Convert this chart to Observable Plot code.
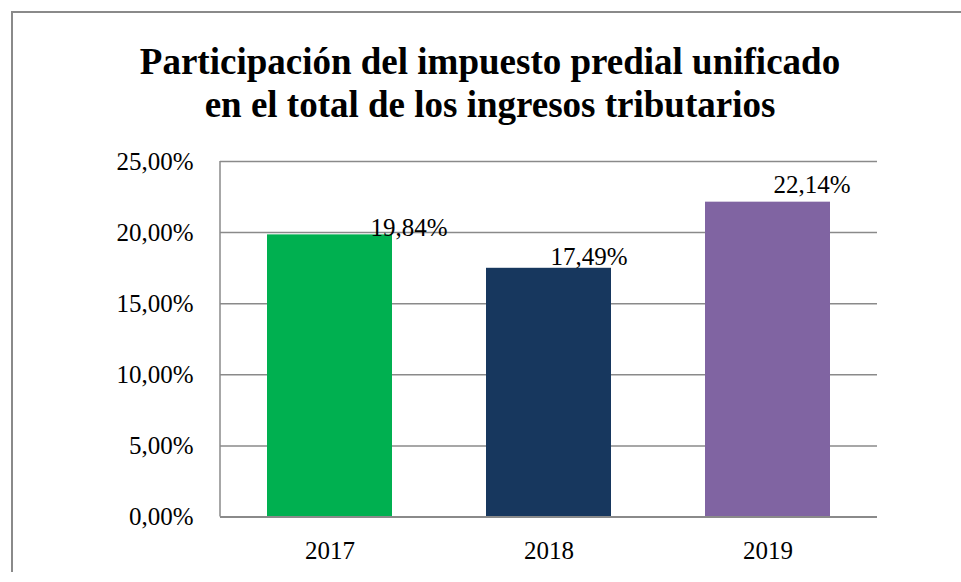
<!DOCTYPE html>
<html>
<head>
<meta charset="utf-8">
<script src="https://cdn.jsdelivr.net/npm/d3@7"></script>
<script src="https://cdn.jsdelivr.net/npm/@observablehq/plot@0.6"></script>
<style>
  html, body { margin: 0; padding: 0; background: #fff; }
  #wrap { position: relative; width: 961px; height: 582px; overflow: hidden; }
  #frame { position: absolute; left: 11px; top: 11px; width: 960px; height: 561px;
           border-left: 2px solid #8a8a8a; border-top: 2px solid #8a8a8a; box-sizing: border-box; }
  #title { position: absolute; left: 19px; top: 40px; width: 942px; text-align: center;
           font-family: "Liberation Serif", "DejaVu Serif", serif; font-weight: bold;
           font-size: 37px; line-height: 43px; color: #000; }
  #chart { position: absolute; left: 0; top: 140px; }
</style>
</head>
<body>
<div id="wrap">
  <div id="frame"></div>
  <div id="title">Participación del impuesto predial unificado<br>en el total de los ingresos tributarios</div>
  <div id="chart"></div>
</div>
<script>
const years = ["2017", "2018", "2019"];
const shares = [19.84, 17.49, 22.14];
const colors = ["#00B050", "#17375E", "#8064A2"];
const valueLabels = ["19,84%", "17,49%", "22,14%"];
const yTicks = [0, 5, 10, 15, 20, 25];
const yTickLabels = ["0,00%", "5,00%", "10,00%", "15,00%", "20,00%", "25,00%"];

const data = years.map((y, i) => ({year: y, value: shares[i], color: colors[i], label: valueLabels[i]}));
// label offsets (style) per bar, as in the original
const labelStyle = {"2017": {dx: 79, dy: 1}, "2018": {dx: 40, dy: -3}, "2019": {dx: 44, dy: -9}};

// left axis line drawn from the y scale
function leftAxisLine(index, scales, values, dimensions) {
  const ns = "http://www.w3.org/2000/svg";
  const line = document.createElementNS(ns, "line");
  const x = dimensions.marginLeft;
  line.setAttribute("x1", x); line.setAttribute("x2", x);
  line.setAttribute("y1", scales.y(yTicks[0])); line.setAttribute("y2", scales.y(yTicks[yTicks.length - 1]));
  line.setAttribute("stroke", "#8a8a8a"); line.setAttribute("stroke-width", 1.5);
  return line;
}

const plot = Plot.plot({
  width: 961,
  height: 442,
  marginLeft: 220,
  marginRight: 84,
  marginTop: 21,
  marginBottom: 65.5,
  style: {fontFamily: "Liberation Serif, Times New Roman, serif", fontSize: "25px", color: "#000", background: "transparent"},
  x: {domain: years, paddingInner: 0.43, paddingOuter: 0.215, label: null},
  y: {domain: [0, 25], label: null},
  marks: [
    Plot.gridY(yTicks, {stroke: "#8a8a8a", strokeOpacity: 1, strokeWidth: 1.5}),
    leftAxisLine,
    Plot.barY(data, {x: "year", y: "value", fill: "color"}),
    Plot.ruleY([0], {stroke: "#8a8a8a", strokeWidth: 2}),
    Plot.axisY(yTicks, {tickSize: 0, tickPadding: 27, tickFormat: (d) => yTickLabels[yTicks.indexOf(d)], fill: "#000", fontSize: 25}),
    Plot.axisX({tickSize: 0, tickPadding: 24, fill: "#000", fontSize: 25}),
    ...years.map(yr => Plot.text(data.filter(d => d.year === yr), {
      x: "year", y: "value", text: "label", lineAnchor: "bottom",
      dx: labelStyle[yr].dx, dy: labelStyle[yr].dy, fill: "#000", fontSize: 25
    }))
  ]
});
document.getElementById("chart").appendChild(plot);
</script>
</body>
</html>
